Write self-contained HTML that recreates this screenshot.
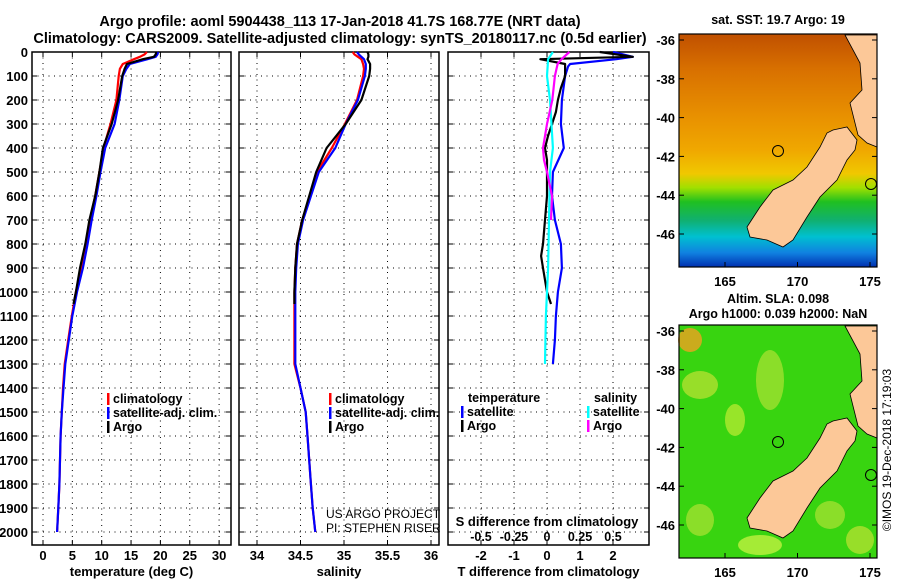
<!DOCTYPE html>
<html><head><meta charset="utf-8"><style>
body{margin:0;background:#fff;}
svg{display:block;font-family:"Liberation Sans",Arial,sans-serif;font-weight:bold;}
</style></head><body>
<svg id="chart" width="900" height="580" viewBox="0 0 900 580" xmlns="http://www.w3.org/2000/svg">
<rect width="900" height="580" fill="#fff"/>
<text x="340" y="26" font-size="14.5" text-anchor="middle">Argo profile: aoml 5904438_113 17-Jan-2018 41.7S 168.77E (NRT data)</text>
<text x="340" y="43" font-size="14.5" text-anchor="middle">Climatology: CARS2009. Satellite-adjusted climatology: synTS_20180117.nc (0.5d earlier)</text>
<g id="p1"></g>
<g id="p2"></g>
<g id="p3"></g>
<g id="maps"></g>
<text transform="translate(891,450) rotate(-90)" font-size="12" font-weight="normal" text-anchor="middle">©IMOS 19-Dec-2018 17:19:03</text>
</svg>
<script>
// ---- data ----
const tDepth = [0,10,20,30,50,70,100,200,300,400,500,600,700,800,900,1000,1100,1200,1300,1400,1500,1600,1700,1800,1900,2000];
const tClim  = [17.7,17.3,16.5,15.5,13.6,13.1,12.9,12.5,11.5,10.3,9.6,8.9,8.0,7.3,6.5,5.6,4.9,4.3,3.7,3.4,3.2,3.0,2.9,2.8,2.6,2.4];
const tSat   = [19.6,19.5,19.2,17.8,14.8,14.2,13.6,13.0,12.2,10.6,9.8,9.1,8.3,7.6,6.8,5.8,5.0,4.4,3.8,3.5,3.2,3.0,2.9,2.8,2.6,2.4];
const argoDepth = [0,10,20,30,50,70,100,200,300,400,500,600,700,800,900,1000,1050];
const tArgo  = [19.3,19.2,18.9,17.0,14.3,13.9,13.5,12.8,11.7,10.2,9.6,8.9,7.9,7.2,6.3,5.6,5.2];
const sClim  = [35.10,35.12,35.16,35.2,35.22,35.23,35.22,35.15,35.01,34.86,34.69,34.61,34.52,34.46,34.44,34.43,34.43,34.43,34.43,34.50,34.56,34.58,34.60,34.62,34.64,34.67];
const sSat   = [35.15,35.17,35.2,35.23,35.25,35.25,35.24,35.16,35.02,34.90,34.71,34.62,34.53,34.47,34.45,34.44,34.44,34.44,34.44,34.50,34.56,34.58,34.60,34.62,34.64,34.67];
const sArgo  = [35.27,35.28,35.28,35.27,35.3,35.3,35.29,35.2,35.02,34.80,34.68,34.60,34.52,34.46,34.44,34.43,34.43];
const dDepth = [0,20,30,50,60,100,200,300,400,500,600,700,800,900,1000,1100,1200,1300];
const dTSat  = [2.0,2.6,2.1,0.7,0.64,0.55,0.45,0.42,0.51,0.18,0.15,0.24,0.42,0.45,0.33,0.27,0.24,0.18];
const dTArgoDepth = [0,20,30,50,100,150,200,250,300,350,400,450,500,600,700,800,850,900,1000,1050];
const dTArgo = [1.6,2.6,-0.2,0.55,0.55,0.42,0.33,0.27,0.15,0.03,-0.06,0,0,0,-0.06,-0.12,-0.18,-0.12,0,0.12];
const dSDepth = [0,30,100,200,400,500,700,900,1100,1300];
const dSSat  = [0.045,0.008,0,0.023,0.045,0.023,0.015,0.008,-0.008,-0.015];
const dSArgoDepth = [0,30,50,100,200,300,400,450,500,600,700];
const dSArgo = [0.17,0.11,0.08,0.06,0.04,0,-0.03,-0.023,0,0.038,0.03];
const tTicks = [0,5,10,15,20,25,30];
const sTicks = [34,34.5,35,35.5,36];
const dTTicks = [-2,-1,0,1,2];
const dSTicks = [-0.5,-0.25,0,0.25,0.5];
const depthTicks = [0,100,200,300,400,500,600,700,800,900,1000,1100,1200,1300,1400,1500,1600,1700,1800,1900,2000];

const NS="http://www.w3.org/2000/svg";
function mk(parent,tag,attrs,txt){const e=document.createElementNS(NS,tag);for(const k in attrs)e.setAttribute(k,attrs[k]);if(txt!==undefined)e.textContent=txt;parent.appendChild(e);return e;}
const yD = d => 52 + d*0.24;
const yTop=52,yBot=545;

function panel(g,x0,x1,xs,ticks,tickFmt,xlabel){
  const box=mk(g,'rect',{x:x0,y:yTop,width:x1-x0,height:yBot-yTop,fill:'none',stroke:'#000','stroke-width':1.5});
  
  
  depthTicks.forEach(d=>{const l=mk(g,'line',{x1:x0,x2:x1,y1:yD(d),y2:yD(d),stroke:'#000','stroke-dasharray':'1 4.5'});
    
    
    mk(g,'line',{x1:x0,x2:x0+5,y1:yD(d),y2:yD(d),stroke:'#000'});mk(g,'line',{x1:x1-5,x2:x1,y1:yD(d),y2:yD(d),stroke:'#000'});});
  ticks.forEach(v=>{const x=xs(v);const l=mk(g,'line',{x1:x,x2:x,y1:yTop,y2:yBot,stroke:'#000','stroke-dasharray':'1 4.5'});
    
    
    mk(g,'line',{x1:x,x2:x,y1:yBot-5,y2:yBot,stroke:'#000'});mk(g,'line',{x1:x,x2:x,y1:yTop,y2:yTop+5,stroke:'#000'});
    if(tickFmt){const t=mk(g,'text',{x:x,y:560,'font-size':13,'text-anchor':'middle'},tickFmt(v));
    
    }});
  if(xlabel){const t=mk(g,'text',{x:(x0+x1)/2,y:576,'font-size':13,'text-anchor':'middle'},xlabel);
    
    }
}
function line(g,xs,vals,depths,color,name,w){
  const pts=vals.map((v,i)=>xs(v).toFixed(1)+','+yD(depths[i]).toFixed(1)).join(' ');
  const p=mk(g,'polyline',{points:pts,fill:'none',stroke:color,'stroke-width':w||2.2,'stroke-linejoin':'round'});
  
  
}
function legend(g,x,y,items){items.forEach((it,i)=>{
  mk(g,'rect',{x:x,y:y+i*14-10,width:2.5,height:12,fill:it[1]});
  const t=mk(g,'text',{x:x+6,y:y+i*14,'font-size':12.5},it[0]);
  
  });}

// panel 1
const p1=document.getElementById('p1');
const xT=v=>43+v*5.87;
panel(p1,32,231,xT,tTicks,v=>String(v),'temperature (deg C)');
depthTicks.forEach(d=>{const t=mk(p1,'text',{x:28,y:yD(d)+5,'font-size':13,'text-anchor':'end'},String(d));
  
  });
line(p1,xT,tClim,tDepth,'#f00','temp-climatology-line');
line(p1,xT,tSat,tDepth,'#00f','temp-satellite-line');
line(p1,xT,tArgo,argoDepth,'#000','temp-argo-line');
legend(p1,107,403,[['climatology','#f00'],['satellite-adj. clim.','#00f'],['Argo','#000']]);

// panel 2
const p2=document.getElementById('p2');
const xS=v=>257+(v-34)*87;
panel(p2,239,439,xS,sTicks,v=>String(v),'salinity');
line(p2,xS,sClim,tDepth,'#f00','sal-climatology-line');
line(p2,xS,sSat,tDepth,'#00f','sal-satellite-line');
line(p2,xS,sArgo,argoDepth,'#000','sal-argo-line');
legend(p2,329,403,[['climatology','#f00'],['satellite-adj. clim.','#00f'],['Argo','#000']]);
[['US ARGO PROJECT',518],['PI: STEPHEN RISER',532]].forEach(a=>{const t=mk(p2,'text',{x:326,y:a[1],'font-size':12,'font-weight':'normal'},a[0]);
  
  });

// panel 3
const p3=document.getElementById('p3');
const xDT=v=>547+v*33;
const xDS=v=>547+v*132;
panel(p3,448,649,xDT,dTTicks,v=>String(v),'T difference from climatology');
line(p3,xDT,dTSat,dDepth,'#00f','tdiff-satellite-line');
line(p3,xDT,dTArgo,dTArgoDepth,'#000','tdiff-argo-line');
line(p3,xDS,dSSat,dSDepth,'#0ff','sdiff-satellite-line');
line(p3,xDS,dSArgo,dSArgoDepth,'#f0f','sdiff-argo-line');
dSTicks.forEach(v=>{const t=mk(p3,'text',{x:xDS(v),y:541,'font-size':12.5,'text-anchor':'middle'},String(v));
  
  });
{const t=mk(p3,'text',{x:547,y:526,'font-size':13,'text-anchor':'middle'},'S difference from climatology');
 
 }
{const t=mk(p3,'text',{x:468,y:402,'font-size':12.5},'temperature');
 
 }
{const t=mk(p3,'text',{x:594,y:402,'font-size':12.5},'salinity');
 
 }
legend(p3,461,416,[['satellite','#00f'],['Argo','#000']]);
legend(p3,587,416,[['satellite','#0ff'],['Argo','#f0f']]);

// maps
const mp=document.getElementById('maps');
const defs=mk(mp,'defs',{});
const g1=mk(defs,'linearGradient',{id:'sst',x1:0,y1:0,x2:0,y2:1});
[[0,'#c05000'],[0.15,'#d87000'],[0.35,'#e89000'],[0.5,'#f0a800'],[0.6,'#f0c800'],[0.66,'#a0e000'],[0.72,'#20c020'],[0.8,'#10b070'],[0.87,'#00c0d0'],[0.94,'#1080e0'],[1,'#0030b0']].forEach(s=>mk(g1,'stop',{offset:s[0],'stop-color':s[1]}));
const land='833,130 847,127 857,140 855,150 847,160 837,180 820,197 807,217 793,240 783,247 767,240 750,237 747,227 760,207 773,190 793,180 807,167 820,147 827,133';
const north='845,35 877,35 877,147 867,143 858,135 850,103 862,90 860,63';
function map(y0,title1,title2,fill,extra){
  const g=mk(mp,'g',{});
  
  
  mk(g,'rect',{x:679,y:y0,width:198,height:233,fill:fill});
  if(extra)extra(g);
  mk(g,'polygon',{points:land,fill:'#fcc898',stroke:'#000','stroke-width':0.8,transform:'translate(0,'+(y0-34)+')'});
  mk(g,'polygon',{points:north,fill:'#fcc898',stroke:'#000','stroke-width':0.8,transform:'translate(0,'+(y0-34)+')'});
  mk(g,'circle',{cx:778,cy:151+(y0-34),r:5.5,fill:'none',stroke:'#000'});
  mk(g,'circle',{cx:871,cy:184+(y0-34),r:5.5,fill:'none',stroke:'#000'});
  mk(g,'rect',{x:679,y:y0,width:198,height:233,fill:'none',stroke:'#000','stroke-width':1.2});
  [165,170,175].forEach(lo=>{const x=725+(lo-165)*14.5;mk(g,'line',{x1:x,x2:x,y1:y0+233,y2:y0+228,stroke:'#000'});
    const t=mk(g,'text',{x:x,y:y0+252,'font-size':13,'text-anchor':'middle'},String(lo));
    
    });
  [-36,-38,-40,-42,-44,-46].forEach(la=>{const y=y0+6+(-36-la)*19.4;mk(g,'line',{x1:679,x2:684,y1:y,y2:y,stroke:'#000'});mk(g,'line',{x1:872,x2:877,y1:y,y2:y,stroke:'#000'});
    const t=mk(g,'text',{x:675,y:y+5,'font-size':13,'text-anchor':'end'},String(la));
    
    });
  const t=mk(g,'text',{x:778,y:title2?y0-22:y0-10,'font-size':12.5,'text-anchor':'middle'},title1);
  
  
  if(title2){const t2=mk(g,'text',{x:778,y:y0-7,'font-size':12.5,'text-anchor':'middle'},title2);
    
    }
}
map(34,'sat. SST: 19.7 Argo: 19',null,'url(#sst)');
map(325,'Altim. SLA: 0.098','Argo h1000: 0.039 h2000: NaN','#38d410',g=>{
  [[690,340,12,12,'#f0a020'],[700,385,18,14,'#b0e030'],[770,380,14,30,'#a0e030'],[735,420,10,16,'#b0e830'],[700,520,14,16,'#a0e030'],[760,545,22,10,'#c0f040'],[830,515,15,14,'#a0e030'],[860,540,14,14,'#b0e030']].forEach(e=>mk(g,'ellipse',{cx:e[0],cy:e[1],rx:e[2],ry:e[3],fill:e[4],opacity:0.8}));
});
</script>
</body></html>
